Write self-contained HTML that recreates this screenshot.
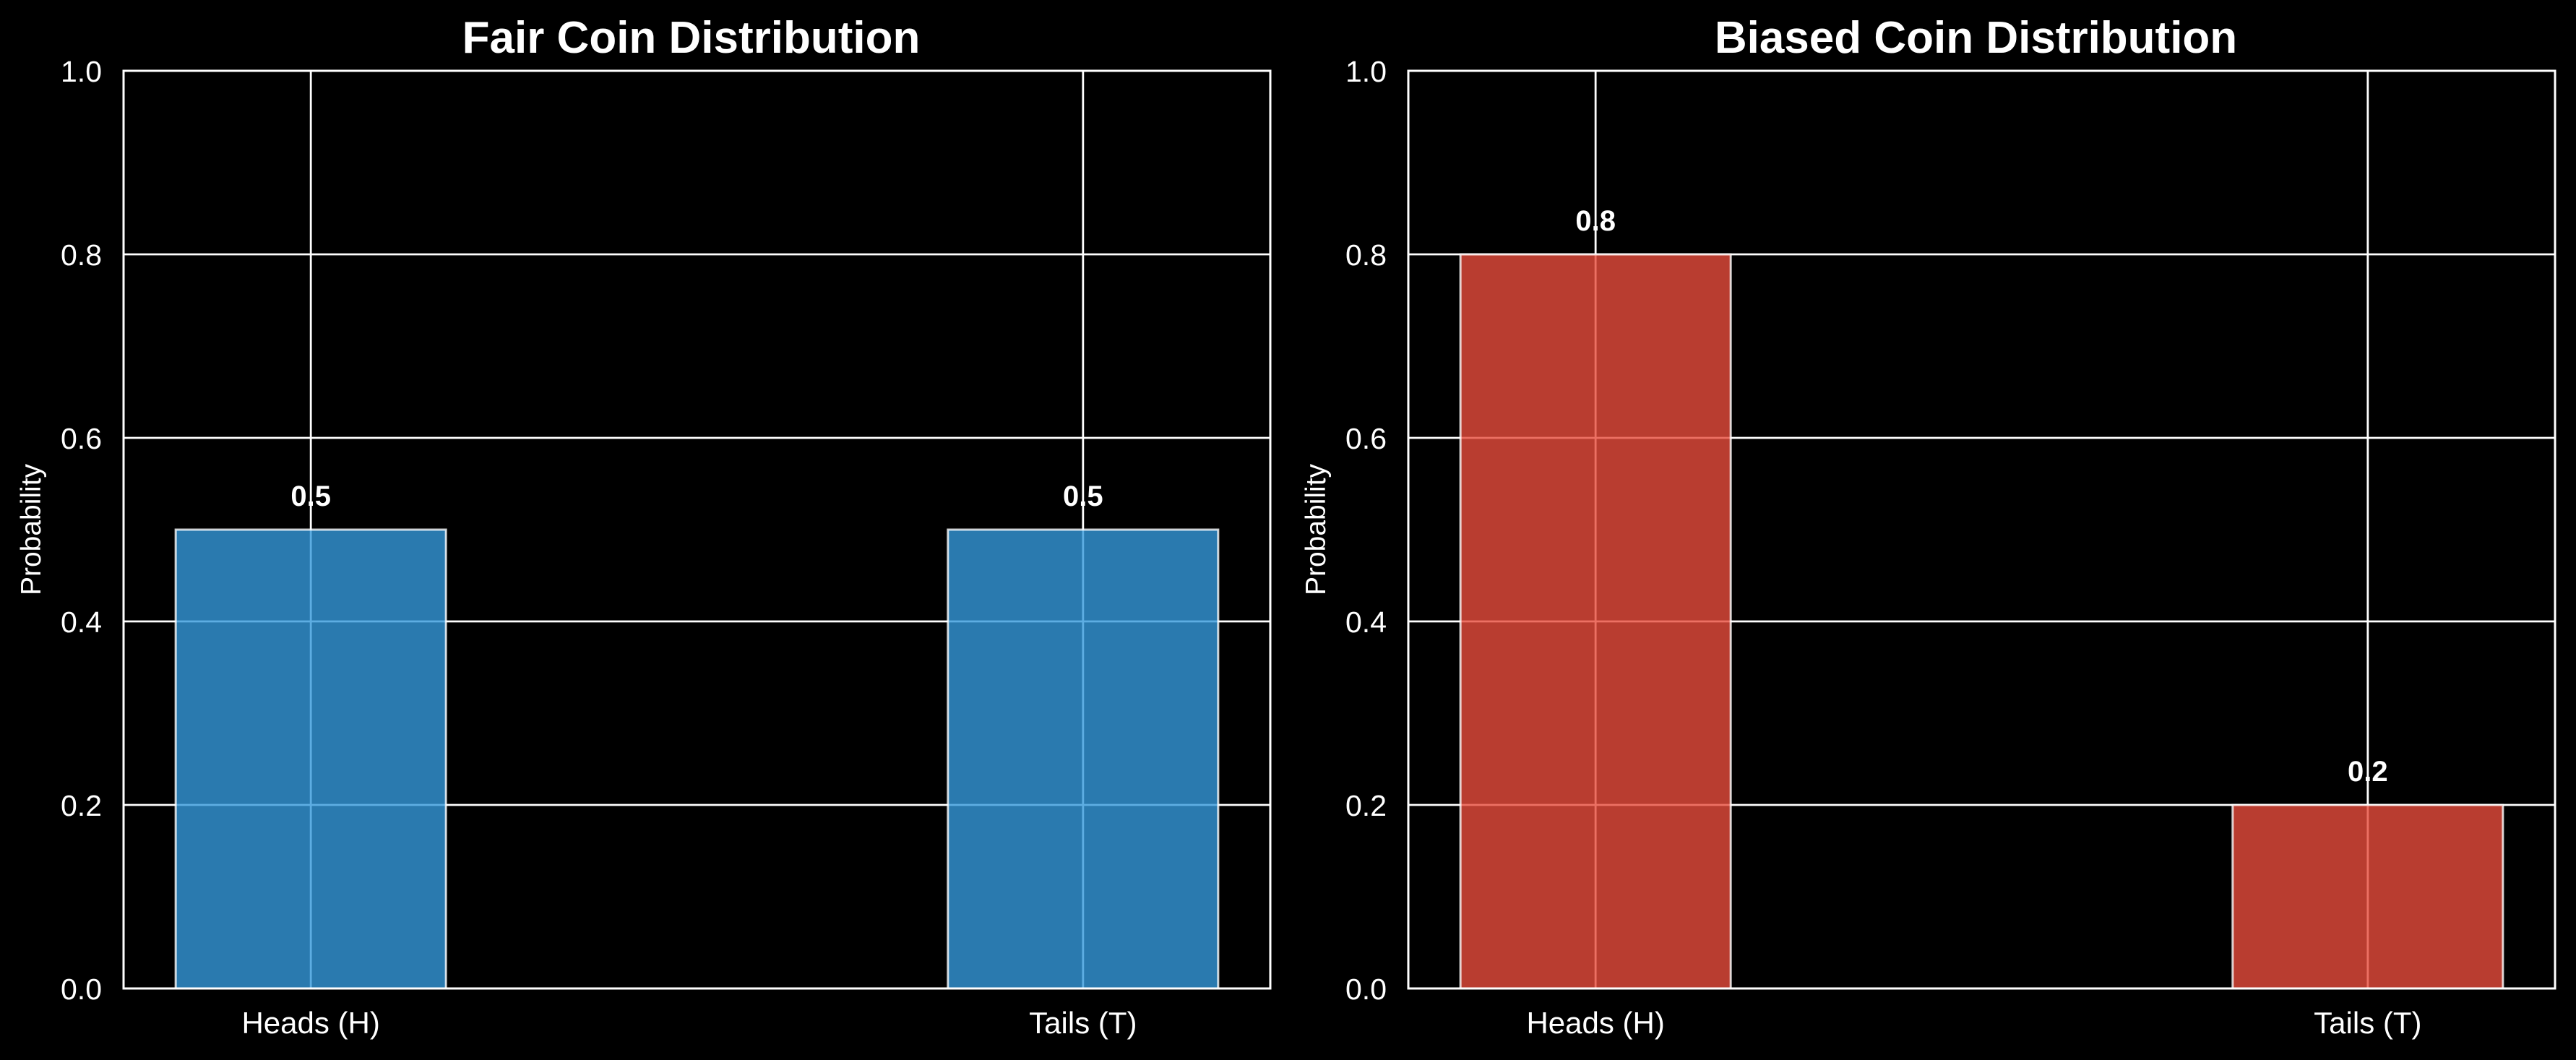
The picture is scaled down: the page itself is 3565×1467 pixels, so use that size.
<!DOCTYPE html>
<html><head><meta charset="utf-8"><style>
html,body{margin:0;padding:0;background:#000;}
svg{display:block;font-family:"Liberation Sans",Arial,sans-serif;}
</style></head><body>
<svg id="fig" width="3565" height="1467" viewBox="0 0 3565 1467"></svg>
<script>
const categories = ["Heads (H)", "Tails (T)"];
const fairValues = [0.5, 0.5];
const biasedValues = [0.8, 0.2];
const yTicks = [0.0, 0.2, 0.4, 0.6, 0.8, 1.0];
const yTickLabels = ["0.0", "0.2", "0.4", "0.6", "0.8", "1.0"];
const titles = ["Fair Coin Distribution", "Biased Coin Distribution"];

const NS = "http://www.w3.org/2000/svg";
const svg = document.getElementById("fig");
function mk(tag, attrs, parent) {
  const e = document.createElementNS(NS, tag);
  for (const k in attrs) e.setAttribute(k, attrs[k]);
  (parent || svg).appendChild(e);
  return e;
}
const TOP = 98, BOT = 1368;
const XMIN = -0.2425, XMAX = 1.2425, BW = 0.35;

function panel(x0, x1, values, color, title, key) {
  const g = mk("g", {});
  
  
  const sx = v => x0 + (v - XMIN) / (XMAX - XMIN) * (x1 - x0);
  const sy = v => BOT - v * (BOT - TOP);
  yTicks.forEach((t, i) => {
    const l = mk("line", {x1: x0, x2: x1, y1: sy(t), y2: sy(t), stroke: "#fff", "stroke-width": 2.8}, g);
    
    
    const tl = mk("text", {x: x0 - 30, y: sy(t) + 15, fill: "#fff", "font-size": 41, "text-anchor": "end"}, g);
    tl.textContent = yTickLabels[i];
    
    
  });
  categories.forEach((c, i) => {
    const l = mk("line", {x1: sx(i), x2: sx(i), y1: TOP, y2: BOT, stroke: "#fff", "stroke-width": 2.8}, g);
    
    
    const tl = mk("text", {x: sx(i), y: 1430, fill: "#fff", "font-size": 42, "text-anchor": "middle"}, g);
    tl.textContent = c;
    
    
  });
  values.forEach((v, i) => {
    const bx = sx(i - BW / 2), bw = sx(i + BW / 2) - bx;
    const r = mk("rect", {x: bx, y: sy(v), width: bw, height: sy(0) - sy(v), fill: color, "fill-opacity": 0.8, stroke: "#fff", "stroke-opacity": 0.8, "stroke-width": 3}, g);
    
    
    const t = mk("text", {x: sx(i), y: sy(v) - 33, fill: "#fff", "font-size": 40, "font-weight": "bold", "text-anchor": "middle"}, g);
    t.textContent = String(v);
    
    
  });
  const f = mk("rect", {x: x0, y: TOP, width: x1 - x0, height: BOT - TOP, fill: "none", stroke: "#fff", "stroke-width": 3}, g);
  
  
  const tt = mk("text", {x: (x0 + x1) / 2 - 8, y: 73, fill: "#fff", "font-size": 62, "font-weight": "bold", "text-anchor": "middle"}, g);
  tt.textContent = title;
  
  
  const yl = mk("text", {x: 0, y: 0, fill: "#fff", "font-size": 39, "text-anchor": "middle", transform: `translate(${x0 - 115},${(TOP + BOT) / 2}) rotate(-90)`}, g);
  yl.textContent = "Probability";
  
  
}
panel(171, 1758, fairValues, "#3498db", titles[0], "fair");
panel(1949, 3536, biasedValues, "#e74c3c", titles[1], "biased");
</script>
</body></html>
